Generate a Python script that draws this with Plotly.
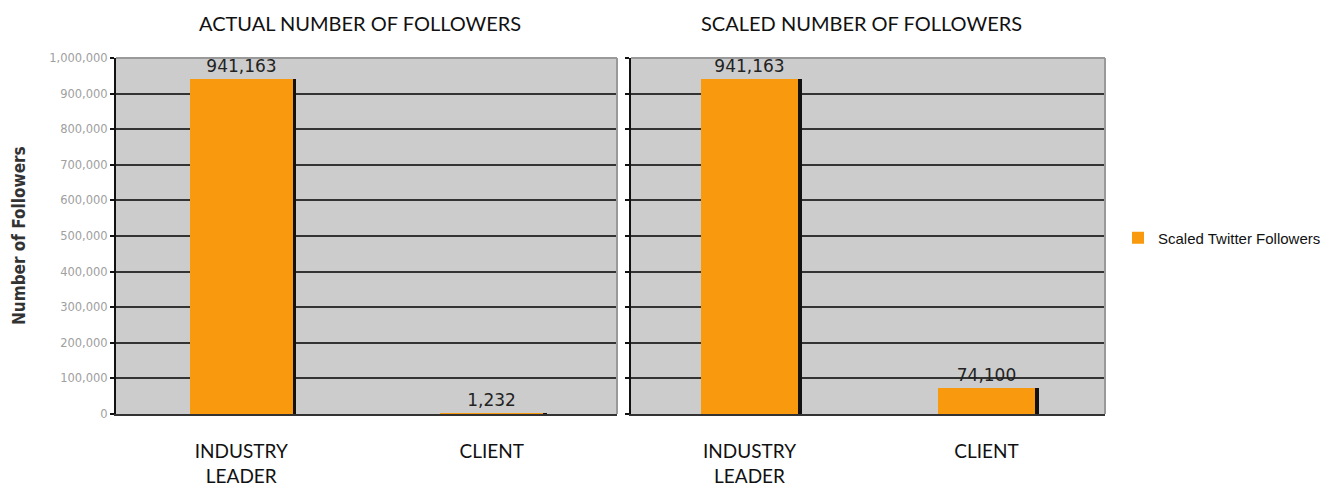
import plotly.graph_objects as go

categories = ["INDUSTRY<br>LEADER", "CLIENT"]
actual_values = [941163, 1232]
scaled_values = [941163, 74100]
panel_titles = ["ACTUAL NUMBER OF FOLLOWERS", "SCALED NUMBER OF FOLLOWERS"]
y_tick_values = [0, 100000, 200000, 300000, 400000, 500000, 600000, 700000, 800000, 900000, 1000000]
y_tick_labels = ["0", "100,000", "200,000", "300,000", "400,000", "500,000",
                 "600,000", "700,000", "800,000", "900,000", "1,000,000"]
series_name = "Scaled Twitter Followers"

ORANGE = "#f99a0e"
W, H = 1332, 492
doms = [(116 / W, 617 / W), (631 / W, 1105 / W)]
ydom = (1 - 414 / H, 1 - 58 / H)

fig = go.Figure()
for i, vals in enumerate([actual_values, scaled_values]):
    xa = "x" if i == 0 else "x2"
    ya = "y" if i == 0 else "y2"
    # shadow
    fig.add_trace(go.Bar(x=categories, y=vals, xaxis=xa, yaxis=ya, width=0.41, offset=-0.19,
                         marker=dict(color="#111111", line=dict(width=0)),
                         showlegend=False, hoverinfo="skip"))
    fig.add_trace(go.Bar(x=categories, y=vals, xaxis=xa, yaxis=ya, width=0.41, offset=-0.205,
                         marker=dict(color=ORANGE, line=dict(width=0)),
                         text=[f"{v:,}" for v in vals], textposition="outside",
                         textfont=dict(family="DejaVu Sans", size=17, color="#222222"),
                         cliponaxis=False, name=series_name, showlegend=(i == 1)))

common_x = dict(showline=True, linecolor="#333333", linewidth=2, showgrid=False,
                ticks="outside", ticklen=19, tickcolor="rgba(0,0,0,0)",
                tickfont=dict(family="Lato, Open Sans, sans-serif", size=19, color="#111111"),
                fixedrange=True, automargin=False)
common_y = dict(range=[0, 1000000], tickvals=y_tick_values, ticktext=y_tick_labels,
                showline=True, linecolor="#111111", linewidth=2, ticks="outside", ticklen=4,
                tickcolor="#111111", tickwidth=2, showgrid=True, gridcolor="#333333", gridwidth=1.5,
                zeroline=False, fixedrange=True, automargin=False)

fig.update_layout(
    width=W, height=H, margin=dict(l=0, r=0, t=0, b=0, pad=0, autoexpand=False),
    paper_bgcolor="white", plot_bgcolor="#cccccc",
    barmode="overlay", bargap=0,
    xaxis=dict(domain=list(doms[0]), anchor="y", **common_x),
    xaxis2=dict(domain=list(doms[1]), anchor="y2", **common_x),
    yaxis=dict(domain=list(ydom), anchor="x",
               tickfont=dict(family="DejaVu Sans", size=11.5, color="#a0a0a0"), **common_y),
    yaxis2=dict(domain=list(ydom), anchor="x2", showticklabels=False, **common_y),
    legend=dict(x=1118 / W, y=1 - 238 / H, xanchor="left", yanchor="middle",
                font=dict(family="Liberation Sans, Arial, sans-serif", size=15, color="#111111"),
                bgcolor="rgba(0,0,0,0)", itemwidth=30),
    showlegend=True,
)

for i, (xd, t) in enumerate(zip(doms, panel_titles)):
    fig.add_annotation(text=t, x=(xd[0] + xd[1]) / 2, y=1 - 23 / H, xref="paper", yref="paper",
                       xanchor="center", yanchor="middle", xshift=-7,
                       showarrow=False, font=dict(family="Lato, Open Sans, sans-serif", size=20, color="#111111"))
    xr = "x domain" if i == 0 else "x2 domain"
    yr = "y domain" if i == 0 else "y2 domain"
    fig.add_shape(type="line", xref=xr, yref=yr, x0=0, x1=1, y0=1, y1=1,
                  line=dict(color="#999999", width=2), layer="above")
    fig.add_shape(type="line", xref=xr, yref=yr, x0=1, x1=1, y0=0, y1=1,
                  line=dict(color="#999999", width=2), layer="above")

fig.add_annotation(text="<b>Number of Followers</b>", x=19 / W, y=1 - 236 / H, xref="paper", yref="paper",
                   xanchor="center", yanchor="middle", textangle=-90, showarrow=False,
                   font=dict(family="Liberation Sans Narrow, DejaVu Sans Condensed, sans-serif", size=17, color="#333333"))

fig.write_html("out.html")
